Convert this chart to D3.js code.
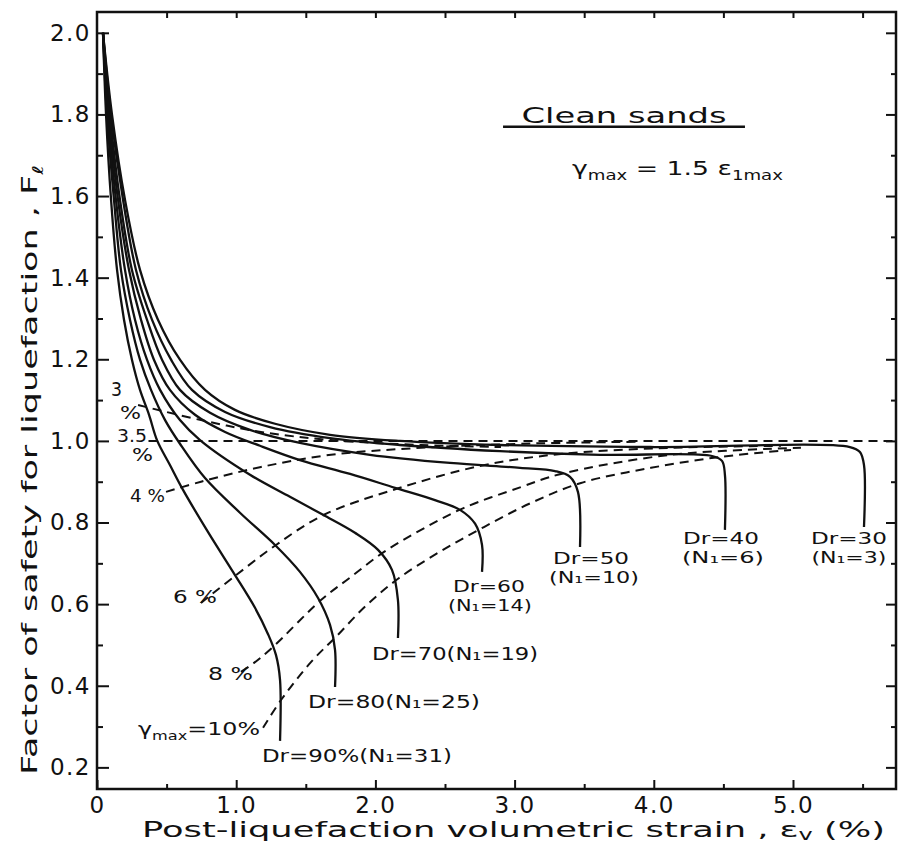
<!DOCTYPE html>
<html>
<head>
<meta charset="utf-8">
<script src="https://cdn.jsdelivr.net/npm/d3@7"></script>
<style>
body { margin: 0; background: #fff; }
svg { display: block; }
text { font-family: "DejaVu Sans", sans-serif; fill: #111; }
</style>
</head>
<body>
<div id="chart"></div>
<script>
// solid curves, one per relative density: [volumetric strain %, F_l]
var dr90 = [[0.043,2.0],[0.065,1.799],[0.101,1.591],[0.144,1.419],[0.194,1.297],[0.251,1.199],[0.309,1.125],[0.374,1.064],[0.431,1.002],[0.524,0.941],[0.618,0.88],[0.797,0.777],[0.977,0.679],[1.135,0.591],[1.228,0.527],[1.286,0.475],[1.315,0.414],[1.315,0.265]];
var dr80 = [[0.043,2.0],[0.072,1.799],[0.122,1.591],[0.172,1.419],[0.237,1.297],[0.309,1.199],[0.388,1.125],[0.489,1.051],[0.596,0.993],[0.776,0.909],[1.027,0.824],[1.279,0.745],[1.458,0.679],[1.588,0.615],[1.674,0.549],[1.71,0.488],[1.71,0.397]];
var dr70 = [[0.043,2.0],[0.079,1.799],[0.136,1.591],[0.201,1.419],[0.273,1.297],[0.359,1.199],[0.453,1.125],[0.596,1.051],[0.74,1.002],[1.099,0.917],[1.386,0.863],[1.624,0.819],[1.853,0.775],[2.019,0.733],[2.119,0.684],[2.162,0.61],[2.162,0.517]];
var dr60 = [[0.043,2.0],[0.086,1.799],[0.151,1.591],[0.23,1.419],[0.316,1.297],[0.409,1.199],[0.524,1.125],[0.704,1.064],[0.92,1.022],[1.171,0.988],[1.458,0.953],[1.818,0.919],[2.141,0.885],[2.428,0.855],[2.608,0.831],[2.716,0.797],[2.766,0.745],[2.766,0.679]];
var dr50 = [[0.043,2.0],[0.093,1.799],[0.165,1.591],[0.251,1.419],[0.359,1.297],[0.467,1.199],[0.596,1.125],[0.812,1.069],[1.099,1.027],[1.458,0.995],[1.961,0.966],[2.536,0.946],[3.039,0.934],[3.29,0.926],[3.398,0.912],[3.455,0.875],[3.47,0.74]];
var dr40 = [[0.043,2.0],[0.101,1.799],[0.187,1.591],[0.28,1.419],[0.395,1.297],[0.532,1.199],[0.682,1.125],[0.92,1.071],[1.243,1.034],[1.674,1.007],[2.177,0.99],[2.895,0.975],[3.614,0.966],[4.418,0.963],[4.49,0.951],[4.511,0.917],[4.511,0.782]];
var dr30 = [[0.043,2.0],[0.108,1.799],[0.201,1.591],[0.309,1.419],[0.438,1.297],[0.596,1.199],[0.776,1.125],[0.991,1.076],[1.279,1.042],[1.674,1.015],[2.177,1.0],[2.895,0.99],[3.973,0.985],[5.409,0.985],[5.481,0.973],[5.51,0.941],[5.51,0.789]];

// dashed curves of equal maximum shear strain
var gam3 = [[0.295,1.088],[0.747,1.051],[1.178,1.022],[1.681,1.002],[2.328,0.99],[2.902,0.985]];
var gam35 = [[0.37,1.0],[5.74,1.0]];
var gam4 = [[0.496,0.875],[0.747,0.90],[1.178,0.936],[1.681,0.966],[2.328,0.983],[3.046,0.993],[3.908,0.998]];
var gam6 = [[0.747,0.603],[0.984,0.667],[1.286,0.745],[1.631,0.819],[2.148,0.882],[2.759,0.939],[3.333,0.968],[4.124,0.983],[4.914,0.988]];
var gam8 = [[1.034,0.434],[1.128,0.456],[1.264,0.495],[1.609,0.61],[1.825,0.667],[2.062,0.728],[2.328,0.782],[2.637,0.836],[3.046,0.887],[3.333,0.919],[4.124,0.966],[5.057,0.983]];
var gam10 = [[1.193,0.297],[1.322,0.365],[1.537,0.458],[1.717,0.52],[1.932,0.596],[2.17,0.664],[2.471,0.73],[2.78,0.789],[3.118,0.848],[3.477,0.897],[3.98,0.934],[4.483,0.961],[4.986,0.978]];

var solidCurves = [dr90, dr80, dr70, dr60, dr50, dr40, dr30];
var dashedCurves = [gam3, gam35, gam4, gam6, gam8, gam10];

var xMajor = [0, 1, 2, 3, 4, 5];
var xMajorLabels = ["0", "1.0", "2.0", "3.0", "4.0", "5.0"];
var xMinor = [0.5, 1.5, 2.5, 3.5, 4.5, 5.5];
var yMajor = [0.2, 0.4, 0.6, 0.8, 1.0, 1.2, 1.4, 1.6, 1.8, 2.0];
var yMajorLabels = ["0.2", "0.4", "0.6", "0.8", "1.0", "1.2", "1.4", "1.6", "1.8", "2.0"];
var yMinor = [0.3, 0.5, 0.7, 0.9, 1.1, 1.3, 1.5, 1.7, 1.9];

// annotations: text, anchor point in data units, text anchor, fitted width, size
var notes = [
    {t: "Dr=30", x: 5.402, y: 0.747, a: "middle", w: 76, s: 16},
    {t: "(N₁=3)", x: 5.402, y: 0.702, a: "middle", w: 75, s: 16},
    {t: "Dr=40", x: 4.483, y: 0.747, a: "middle", w: 76, s: 16},
    {t: "(N₁=6)", x: 4.497, y: 0.702, a: "middle", w: 82, s: 16},
    {t: "Dr=50", x: 3.549, y: 0.698, a: "middle", w: 76, s: 16},
    {t: "(N₁=10)", x: 3.570, y: 0.653, a: "middle", w: 90, s: 16},
    {t: "Dr=60", x: 2.816, y: 0.629, a: "middle", w: 72, s: 16},
    {t: "(N₁=14)", x: 2.823, y: 0.584, a: "middle", w: 84, s: 16},
    {t: "Dr=70(N₁=19)", x: 1.976, y: 0.463, a: "start", w: 166, s: 18},
    {t: "Dr=80(N₁=25)", x: 1.516, y: 0.346, a: "start", w: 172, s: 18},
    {t: "Dr=90%(N₁=31)", x: 1.185, y: 0.213, a: "start", w: 190, s: 18},
    {t: "γ_{max}=10%", x: 0.295, y: 0.279, a: "start", w: 122, s: 18},
    {t: "8 %", x: 0.797, y: 0.414, a: "start", w: 45, s: 18},
    {t: "6 %", x: 0.546, y: 0.603, a: "start", w: 44, s: 18},
    {t: "4 %", x: 0.237, y: 0.850, a: "start", w: 35, s: 17},
    {t: "3.5", x: 0.144, y: 0.997, a: "start", w: 30, s: 17},
    {t: "%", x: 0.251, y: 0.951, a: "start", w: 21, s: 17},
    {t: "3", x: 0.100, y: 1.110, a: "start", w: 11, s: 19},
    {t: "%", x: 0.165, y: 1.054, a: "start", w: 21, s: 17}
];

var W = 901, H = 848;
var svg = d3.select("#chart").append("svg").attr("width", W).attr("height", H);

var x = d3.scaleLinear().domain([0, 5.74]).range([97, 896]);
var y = d3.scaleLinear().domain([0.147, 2.051]).range([789, 12]);

// text with _{...} subscripts
function rich(sel, str, size, drop) {
    var parts = str.split(/(_\{[^}]*\})/);
    var shift = size * (drop || 0.28);
    var down = false;
    parts.forEach(function(p) {
        if (!p) return;
        if (p.indexOf("_{") === 0) {
            sel.append("tspan").attr("font-size", size * 0.68).attr("dy", shift).text(p.slice(2, -1));
            down = true;
        } else {
            var ts = sel.append("tspan").text(p);
            if (down) { ts.attr("dy", -shift); down = false; }
        }
    });
}

// ticks
var g = svg.append("g");
g.append("g").attr("transform", "translate(0,789)")
    .call(d3.axisBottom(x).tickValues(xMajor).tickSize(-9).tickPadding(8)
        .tickFormat(function(d, i) { return xMajorLabels[i]; }));
g.append("g").attr("transform", "translate(0,789)")
    .call(d3.axisBottom(x).tickValues(xMinor).tickSize(-5).tickFormat(""));
g.append("g").attr("transform", "translate(0,12)")
    .call(d3.axisTop(x).tickValues(xMinor.concat(xMajor.slice(1))).tickSize(-6).tickFormat(""));
g.append("g").attr("transform", "translate(97,0)")
    .call(d3.axisLeft(y).tickValues(yMajor).tickSize(-12).tickPadding(6)
        .tickFormat(function(d, i) { return yMajorLabels[i]; }));
g.append("g").attr("transform", "translate(97,0)")
    .call(d3.axisLeft(y).tickValues(yMinor).tickSize(-6).tickFormat(""));
g.append("g").attr("transform", "translate(896,0)")
    .call(d3.axisRight(y).tickValues(yMajor).tickSize(-10).tickFormat(""));
g.append("g").attr("transform", "translate(896,0)")
    .call(d3.axisRight(y).tickValues(yMinor).tickSize(-5).tickFormat(""));
g.selectAll(".domain").remove();
g.selectAll(".tick line").attr("stroke", "#111").attr("stroke-width", 2);
g.selectAll(".tick text").attr("font-size", 23).attr("font-family", "DejaVu Sans")
    .attr("fill", "#111").attr("letter-spacing", 1.5);

// frame
svg.append("rect").attr("x", 97).attr("y", 12).attr("width", 799).attr("height", 777)
    .attr("fill", "none").attr("stroke", "#111").attr("stroke-width", 2.5);

var line = d3.line()
    .x(function(d) { return x(d[0]); })
    .y(function(d) { return y(d[1]); })
    .curve(d3.curveCatmullRom.alpha(0.5));

svg.append("g").selectAll("path").data(dashedCurves).enter().append("path")
    .attr("d", line).attr("fill", "none").attr("stroke", "#111")
    .attr("stroke-width", 2).attr("stroke-dasharray", "9,6");

svg.append("g").selectAll("path").data(solidCurves).enter().append("path")
    .attr("d", line).attr("fill", "none").attr("stroke", "#111")
    .attr("stroke-width", 2.3);

// annotations
notes.forEach(function(n) {
    var t = svg.append("text").attr("x", x(n.x)).attr("y", y(n.y))
        .attr("text-anchor", n.a).attr("font-size", n.s)
        .attr("textLength", n.w).attr("lengthAdjust", "spacingAndGlyphs");
    rich(t, n.t, n.s);
});

// title block
svg.append("text").attr("x", x(3.786)).attr("y", y(1.779)).attr("text-anchor", "middle")
    .attr("font-size", 22).attr("textLength", 205).attr("lengthAdjust", "spacingAndGlyphs")
    .text("Clean sands");
svg.append("line").attr("x1", x(2.917)).attr("x2", x(4.655))
    .attr("y1", y(1.770)).attr("y2", y(1.770)).attr("stroke", "#111").attr("stroke-width", 2.5);
var eq = svg.append("text").attr("x", x(3.412)).attr("y", y(1.652))
    .attr("font-size", 20).attr("textLength", 211).attr("lengthAdjust", "spacingAndGlyphs");
rich(eq, "γ_{max} = 1.5 ε_{1max}", 20);

// axis titles
var xt = svg.append("text").attr("x", 142).attr("y", 837)
    .attr("font-size", 22).attr("textLength", 743).attr("lengthAdjust", "spacingAndGlyphs");
rich(xt, "Post-liquefaction volumetric strain , ε_{v} (%)", 22, 0.12);

var yt = svg.append("text").attr("transform", "translate(37,775) rotate(-90)")
    .attr("font-size", 22).attr("textLength", 610).attr("lengthAdjust", "spacingAndGlyphs");
rich(yt, "Factor of safety for liquefaction , F_{ℓ}", 22);
</script>
</body>
</html>
